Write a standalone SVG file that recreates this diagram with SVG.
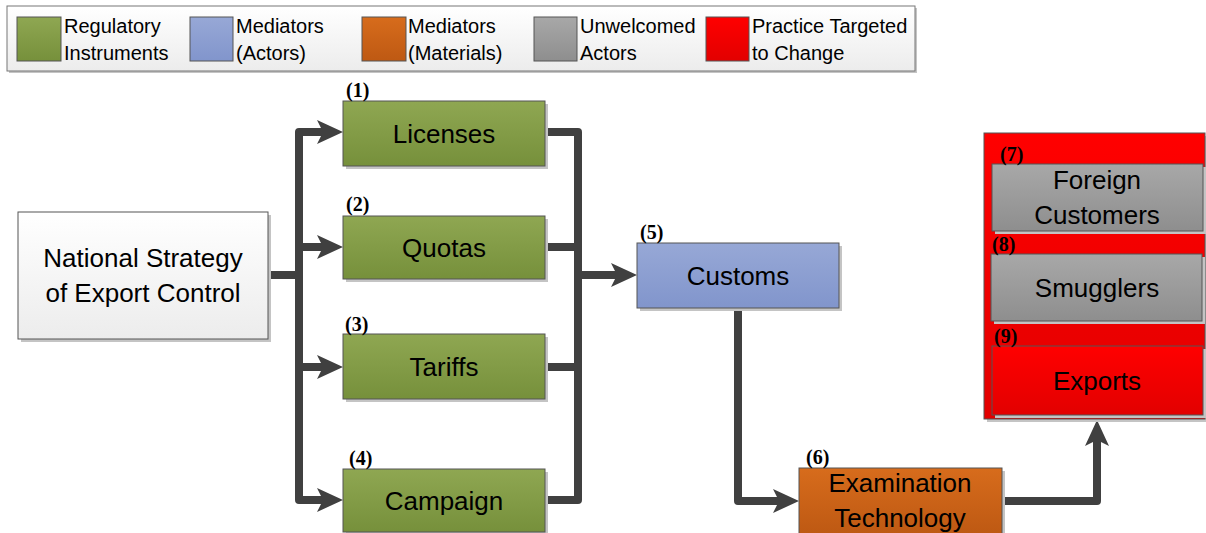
<svg xmlns="http://www.w3.org/2000/svg" width="1206" height="533" viewBox="0 0 1206 533">
<defs>
<linearGradient id="gGreen" x1="0" y1="0" x2="0" y2="1"><stop offset="0" stop-color="#8FA752"/><stop offset="1" stop-color="#76903B"/></linearGradient>
<linearGradient id="gBlue" x1="0" y1="0" x2="0" y2="1"><stop offset="0" stop-color="#97A8D6"/><stop offset="1" stop-color="#8195CC"/></linearGradient>
<linearGradient id="gOrange" x1="0" y1="0" x2="0" y2="1"><stop offset="0" stop-color="#D76C1C"/><stop offset="1" stop-color="#BE5913"/></linearGradient>
<linearGradient id="gGray" x1="0" y1="0" x2="0" y2="1"><stop offset="0" stop-color="#A8A8A8"/><stop offset="1" stop-color="#8E8E8E"/></linearGradient>
<linearGradient id="gRed" x1="0" y1="0" x2="0" y2="1"><stop offset="0" stop-color="#FF0000"/><stop offset="1" stop-color="#E20000"/></linearGradient>
<linearGradient id="gWhite" x1="0" y1="0" x2="0" y2="1"><stop offset="0" stop-color="#FFFFFF"/><stop offset="1" stop-color="#ECECEC"/></linearGradient>
<marker id="arr" markerUnits="userSpaceOnUse" viewBox="0 0 26 24" refX="6" refY="12" markerWidth="26" markerHeight="24" orient="auto">
<path d="M0,0 L26,12 L0,24 L6,12 Z" fill="#404040"/>
</marker>
</defs>
<style>
.box{stroke:#555555;stroke-width:1}
.sh{fill:#C4C4C4}
.t{font-family:"Liberation Sans",Arial,sans-serif;font-size:26px;fill:#000;text-anchor:middle}
.lg{font-family:"Liberation Sans",Arial,sans-serif;font-size:20px;fill:#000}
.n{font-family:"Liberation Serif","Times New Roman",serif;font-size:20px;font-weight:bold;fill:#000}
.c{fill:none;stroke:#404040;stroke-width:8;stroke-linejoin:round;stroke-linecap:butt}
.cr{stroke-linecap:round}
</style>
<rect width="1206" height="533" fill="#FFFFFF"/>

<g id="legend">
<rect x="9" y="8" width="908" height="65" class="sh"/>
<rect x="7" y="6" width="908" height="65" fill="url(#gWhite)" stroke="#777777" stroke-width="1"/>
<rect x="17" y="17" width="44" height="44" fill="url(#gGreen)" class="box"/>
<text class="lg" x="64" y="33">Regulatory</text><text class="lg" x="64" y="60">Instruments</text>
<rect x="190" y="17" width="43" height="44" fill="url(#gBlue)" class="box"/>
<text class="lg" x="236" y="33">Mediators</text><text class="lg" x="236" y="60">(Actors)</text>
<rect x="362" y="17" width="44" height="44" fill="url(#gOrange)" class="box"/>
<text class="lg" x="408" y="33">Mediators</text><text class="lg" x="408" y="60">(Materials)</text>
<rect x="534" y="17" width="43" height="44" fill="url(#gGray)" class="box"/>
<text class="lg" x="580" y="33">Unwelcomed</text><text class="lg" x="580" y="60">Actors</text>
<rect x="706" y="17" width="43" height="44" fill="url(#gRed)" class="box"/>
<text class="lg" x="752" y="33">Practice Targeted</text><text class="lg" x="752" y="60">to Change</text>
</g>

<g id="connectors">
<path class="c cr" d="M265,275 H299"/>
<path class="c" d="M299,275 V132 H323" marker-end="url(#arr)"/>
<path class="c" d="M299,275 V500 H323" marker-end="url(#arr)"/>
<path class="c" d="M299,247 H323" marker-end="url(#arr)"/>
<path class="c" d="M299,367 H323" marker-end="url(#arr)"/>
<path class="c cr" d="M545,132 H578 V500 H545"/>
<path class="c cr" d="M545,247 H578"/>
<path class="c cr" d="M545,367 H578"/>
<path class="c" d="M578,275 H617" marker-end="url(#arr)"/>
<path class="c cr" d="M738,308 V501 H779" marker-end="url(#arr)"/>
<path class="c cr" d="M1002,501 H1097 V440" marker-end="url(#arr)"/>
</g>

<g id="national">
<rect x="21" y="215" width="250" height="127" class="sh"/>
<rect x="18" y="212" width="250" height="127" fill="url(#gWhite)" class="box"/>
<text class="t" x="143" y="267">National Strategy</text>
<text class="t" x="143" y="302">of Export Control</text>
</g>

<g id="licenses">
<rect x="346" y="104" width="202" height="65" class="sh"/>
<rect x="343" y="101" width="202" height="65" fill="url(#gGreen)" class="box"/>
<text class="t" x="444" y="143">Licenses</text>
<text class="n" x="346" y="97">(1)</text>
</g>

<g id="quotas">
<rect x="346" y="219" width="202" height="63" class="sh"/>
<rect x="343" y="216" width="202" height="63" fill="url(#gGreen)" class="box"/>
<text class="t" x="444" y="257">Quotas</text>
<text class="n" x="346" y="211">(2)</text>
</g>

<g id="tariffs">
<rect x="346" y="337" width="202" height="65" class="sh"/>
<rect x="343" y="334" width="202" height="65" fill="url(#gGreen)" class="box"/>
<text class="t" x="444" y="376">Tariffs</text>
<text class="n" x="345" y="331">(3)</text>
</g>

<g id="campaign">
<rect x="346" y="472" width="202" height="63" class="sh"/>
<rect x="343" y="469" width="202" height="63" fill="url(#gGreen)" class="box"/>
<text class="t" x="444" y="510">Campaign</text>
<text class="n" x="349" y="465">(4)</text>
</g>

<g id="customs">
<rect x="640" y="246" width="202" height="65" class="sh"/>
<rect x="637" y="243" width="202" height="65" fill="url(#gBlue)" class="box"/>
<text class="t" x="738" y="285">Customs</text>
<text class="n" x="640" y="239">(5)</text>
</g>

<g id="examination">
<rect x="802" y="471" width="203" height="66" class="sh"/>
<rect x="799" y="468" width="203" height="66" fill="url(#gOrange)" class="box"/>
<text class="t" x="900" y="492">Examination</text>
<text class="t" x="900" y="527">Technology</text>
<text class="n" x="806" y="464">(6)</text>
</g>

<g id="target-group">
<rect x="987" y="136" width="219" height="286" class="sh"/>
<rect x="984" y="133" width="221" height="286" fill="url(#gRed)" class="box"/>
</g>

<g id="foreign-customers">
<rect x="995" y="167" width="211" height="67" class="sh"/>
<rect x="992" y="164" width="211" height="67" fill="url(#gGray)" class="box"/>
<text class="t" x="1097" y="189">Foreign</text>
<text class="t" x="1097" y="224">Customers</text>
<text class="n" x="1000" y="161">(7)</text>
</g>

<g id="smugglers">
<rect x="994" y="257" width="211" height="67" class="sh"/>
<rect x="991" y="254" width="211" height="67" fill="url(#gGray)" class="box"/>
<text class="t" x="1097" y="297">Smugglers</text>
<text class="n" x="992" y="251">(8)</text>
</g>

<g id="exports">
<rect x="995" y="349" width="211" height="69" class="sh"/>
<rect x="992" y="346" width="211" height="69" fill="url(#gRed)" class="box"/>
<text class="t" x="1097" y="390">Exports</text>
<text class="n" x="994" y="343">(9)</text>
</g>
</svg>
